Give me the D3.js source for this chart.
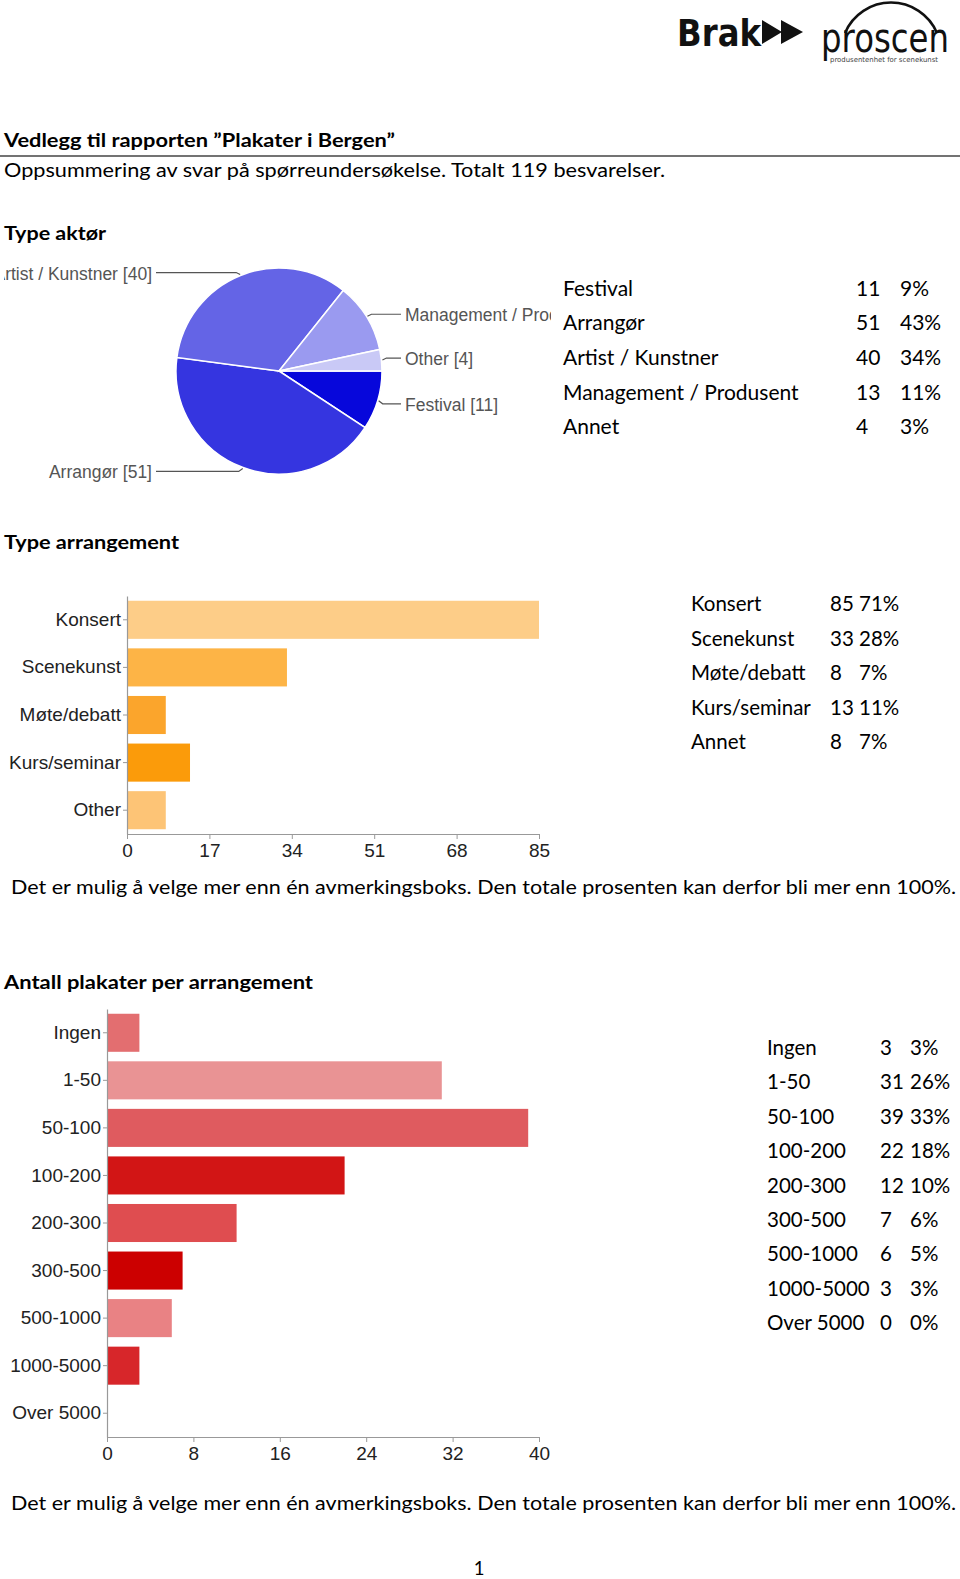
<!DOCTYPE html>
<html>
<head>
<meta charset="utf-8">
<script src="https://cdn.jsdelivr.net/npm/d3@7/dist/d3.min.js"></script>
<style>
  html, body { margin: 0; padding: 0; background: #fff; }
  svg { display: block; }
</style>
</head>
<body>
<svg id="page" width="960" height="1579"></svg>
<script>
// ---------- DATA ----------
const pieCats = ["Festival", "Arrangør", "Artist / Kunstner", "Management / Produsent", "Other"];
const pieVals = [11, 51, 40, 13, 4];
const pieTableLabels = ["Festival", "Arrangør", "Artist / Kunstner", "Management / Produsent", "Annet"];
const pieTablePcts = ["9%", "43%", "34%", "11%", "3%"];

const arrCats = ["Konsert", "Scenekunst", "Møte/debatt", "Kurs/seminar", "Other"];
const arrVals = [85, 33, 8, 13, 8];
const arrTableLabels = ["Konsert", "Scenekunst", "Møte/debatt", "Kurs/seminar", "Annet"];
const arrTablePcts = ["71%", "28%", "7%", "11%", "7%"];
const arrTicks = [0, 17, 34, 51, 68, 85];

const plakCats = ["Ingen", "1-50", "50-100", "100-200", "200-300", "300-500", "500-1000", "1000-5000", "Over 5000"];
const plakVals = [3, 31, 39, 22, 12, 7, 6, 3, 0];
const plakTablePcts = ["3%", "26%", "33%", "18%", "10%", "6%", "5%", "3%", "0%"];
const plakTicks = [0, 8, 16, 24, 32, 40];

const texts = {
  title: "Vedlegg til rapporten \u201DPlakater i Bergen\u201D",
  subtitle: "Oppsummering av svar på spørreundersøkelse. Totalt 119 besvarelser.",
  sec1: "Type aktør",
  sec2: "Type arrangement",
  sec3: "Antall plakater per arrangement",
  note: "Det er mulig å velge mer enn én avmerkingsboks. Den totale prosenten kan derfor bli mer enn 100%.",
  page: "1"
};

// ---------- STYLE ----------
const pieColors = ["#0707db", "#3535e0", "#6464e6", "#9a9af0", "#c9c9f6"];
const arrColors = ["#fdcd88", "#fdb446", "#fba52c", "#fb9b0a", "#fdc476"];
const plakColors = ["#e36e70", "#e99394", "#df5b5f", "#d21515", "#df4d50", "#cc0000", "#e98284", "#d7262a", "#d7262a"];
const docFont = "Lato, 'Open Sans', sans-serif";
const chartFont = "'Liberation Sans', Arial, sans-serif";

const svg = d3.select("#page");
svg.append("rect").attr("width", 960).attr("height", 1579).attr("fill", "#fff");

function docText(str, x, y, opts = {}) {
  const t = svg.append("text")
    .attr("x", x).attr("y", y)
    .attr("dominant-baseline", "central")
    .attr("font-family", docFont)
    .attr("font-size", opts.size || 18.5)
    .attr("font-weight", opts.bold ? 700 : 400)
    .attr("fill", opts.fill || "#000")
    .attr("text-anchor", opts.anchor || "start")
    .text(str);
  if (opts.width) t.attr("textLength", opts.width).attr("lengthAdjust", "spacingAndGlyphs");
  return t;
}

// ---------- LOGOS ----------
const logo = svg.append("g");
logo.append("text").attr("x", 677).attr("y", 46)
  .attr("font-family", "'DejaVu Sans', sans-serif").attr("font-weight", 700)
  .attr("font-size", 38).attr("textLength", 84).attr("lengthAdjust", "spacingAndGlyphs")
  .attr("fill", "#111").text("Brak");
logo.append("path").attr("d", "M762,20 L782,32 L762,44 Z M781,20 L803,32 L781,44 Z").attr("fill", "#111");
logo.append("path").attr("d", "M845,33 A50,50 0 0 1 937,33")
  .attr("fill", "none").attr("stroke", "#111").attr("stroke-width", 2.5);
logo.append("text").attr("x", 821).attr("y", 52)
  .attr("font-family", "'DejaVu Sans', sans-serif").attr("font-size", 40)
  .attr("textLength", 128).attr("lengthAdjust", "spacingAndGlyphs")
  .attr("fill", "#111").text("proscen");
logo.append("text").attr("x", 830).attr("y", 62)
  .attr("font-family", "'DejaVu Sans', sans-serif").attr("font-size", 7)
  .attr("textLength", 108).attr("lengthAdjust", "spacingAndGlyphs")
  .attr("fill", "#444").text("produsentenhet for scenekunst");

// ---------- HEADER ----------
docText(texts.title, 4, 139, { bold: true, width: 391, size: 19 });
svg.append("line").attr("x1", 0).attr("x2", 960).attr("y1", 156).attr("y2", 156)
  .attr("stroke", "#444").attr("stroke-width", 1.5);
docText(texts.subtitle, 4, 170, { width: 661 });
docText(texts.sec1, 4, 232, { bold: true, width: 102, size: 19 });

// ---------- PIE ----------
const cx = 279, cy = 371, R = 103;
svg.append("clipPath").attr("id", "pieclip")
  .append("rect").attr("x", 4).attr("y", 250).attr("width", 547).attr("height", 240);
const pieG = svg.append("g").attr("clip-path", "url(#pieclip)");
const pie = d3.pie().sort(null).value(d => d)
  .startAngle(Math.PI / 2).endAngle(Math.PI / 2 + 2 * Math.PI);
const arcs = pie(pieVals);
const arcGen = d3.arc().innerRadius(0).outerRadius(R);
pieG.append("g").attr("transform", `translate(${cx},${cy})`)
  .selectAll("path").data(arcs).join("path")
  .attr("d", arcGen)
  .attr("fill", (d, i) => pieColors[i])
  .attr("stroke", "#fff").attr("stroke-width", 1.5);

arcs.forEach((d, i) => {
  const a = (d.startAngle + d.endAngle) / 2;
  const ex = cx + Math.sin(a) * (R + 1);
  const ey = cy - Math.cos(a) * (R + 1);
  const right = Math.sin(a) > 0;
  const ly = ey + (ey < cy ? -2 : 3);
  let path;
  if (right) {
    path = `M${ex},${ey} L${ex + 4},${ly} L401,${ly}`;
  } else {
    path = `M${ex},${ey} L${ex - 4},${ly} L156,${ly}`;
  }
  pieG.append("path").attr("d", path).attr("fill", "none")
    .attr("stroke", "#555").attr("stroke-width", 1.2);
  pieG.append("text")
    .attr("x", right ? 405 : 152).attr("y", ly + 1)
    .attr("dominant-baseline", "central")
    .attr("text-anchor", right ? "start" : "end")
    .attr("font-family", chartFont).attr("font-size", 17.5)
    .attr("fill", "#555")
    .text(`${pieCats[i]} [${pieVals[i]}]`);
});

// ---------- TABLE HELPER ----------
function table(labels, counts, pcts, xLab, xNum, xPct, y0, step, size) {
  labels.forEach((l, i) => {
    const y = y0 + i * step;
    docText(l, xLab, y, { size });
    docText(String(counts[i]), xNum, y, { size });
    docText(pcts[i], xPct, y, { size });
  });
}
table(pieTableLabels, pieVals, pieTablePcts, 563, 856, 900, 287, 34.7, 21);

// ---------- BAR CHART HELPER ----------
function barChart(cats, vals, colors, ticks, x0, x1, yTop, yBot) {
  const g = svg.append("g");
  const x = d3.scaleLinear().domain([0, ticks[ticks.length - 1]]).range([x0, x1]);
  const y = d3.scaleBand().domain(cats).range([yTop, yBot]).paddingInner(0.2).paddingOuter(0.1);
  g.selectAll("rect.bar").data(vals).join("rect")
    .attr("class", "bar")
    .attr("x", x(0))
    .attr("y", (d, i) => y(cats[i]))
    .attr("width", d => x(d) - x(0))
    .attr("height", y.bandwidth())
    .attr("fill", (d, i) => colors[i]);
  const yAx = g.append("g").attr("transform", `translate(${x0},0)`)
    .call(d3.axisLeft(y).tickSize(4).tickSizeOuter(0).tickPadding(2));
  const xAx = g.append("g").attr("transform", `translate(0,${yBot})`)
    .call(d3.axisBottom(x).tickValues(ticks).tickSize(5).tickSizeOuter(0).tickPadding(5));
  [yAx, xAx].forEach(ax => {
    ax.select(".domain").attr("stroke", "#999").attr("stroke-width", 1.2);
    ax.selectAll(".tick line").attr("stroke", "#999");
    ax.selectAll("text").attr("font-family", chartFont).attr("font-size", 19).attr("fill", "#222");
  });
  return g;
}

// ---------- SECTION 2 ----------
docText(texts.sec2, 4, 541, { bold: true, width: 175, size: 19 });
barChart(arrCats, arrVals, arrColors, arrTicks, 127, 539, 596, 834);
table(arrTableLabels, arrVals, arrTablePcts, 691, 830, 859, 603, 34.6, 20.5);
docText(texts.note, 11, 887, { width: 945 });

// ---------- SECTION 3 ----------
docText(texts.sec3, 4, 981, { bold: true, width: 309, size: 19 });
barChart(plakCats, plakVals, plakColors, plakTicks, 107, 539, 1009, 1437);
table(plakCats, plakVals, plakTablePcts, 767, 880, 910, 1047, 34.4, 20.5);
docText(texts.note, 11, 1503, { width: 945 });

docText(texts.page, 479, 1568, { anchor: "middle" });
</script>
</body>
</html>
